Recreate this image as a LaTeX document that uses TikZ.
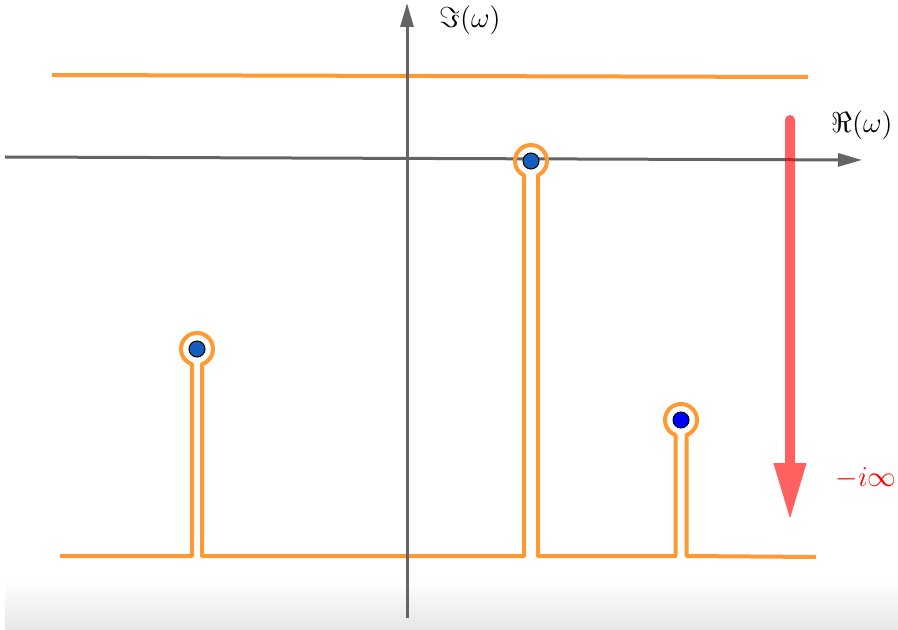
\documentclass[tikz,border=0pt]{standalone}
\usepackage{xcolor}
\usepackage{tikz}
\usetikzlibrary{arrows.meta}
\definecolor{contourorange}{RGB}{255,153,51}
\definecolor{poleblue}{RGB}{22,94,190}
\definecolor{axisgray}{RGB}{100,100,100}
% one keyhole round a pole: centre x, centre y, half gap
\newcommand{\keyhole}[3]{-- (#1-#3,556) -- (#1-#3,{#2+sqrt(256-#3*#3)}) arc[start angle={90+asin(#3/16)}, end angle={450-asin(#3/16)}, radius=16] -- (#1+#3,556)}

\begin{document}
\begin{tikzpicture}[x=0.5pt, y=-0.5pt,
    axis/.style={draw=axisgray, line width=1.5pt, -{Triangle[length=12pt, width=6.5pt]}},
    contour/.style={draw=contourorange, line width=2pt, line join=round},
    pole/.style={circle, draw=black, line width=0.5pt, fill=poleblue, minimum size=8pt, inner sep=0pt},
    lbl/.style={font=\Large, inner sep=0pt}]
  \useasboundingbox (0,0) rectangle (898,630);
  \shade[top color=white, bottom color=black!10] (5,580) rectangle (898,630);
  % real axis
  \coordinate (xl) at (5,157);
  \coordinate (xr) at (862,160);
  \path[axis] (xl) -- (xr);
  % contours
  \coordinate (tl) at (52,75);
  \coordinate (tr) at (808,77);
  \draw[contour] (tl) -- (tr);
  \draw[contour] (60,556) \keyhole{197}{349}{5} \keyhole{531}{161}{7} \keyhole{681}{420}{5.5} -- (816,557);
  % imaginary axis
  \coordinate (yb) at (407,618);
  \coordinate (yt) at (407,3);
  \path[axis] (yb) -- (yt);
  % push to -i infinity
  \coordinate (rs) at (790,120);
  \coordinate (re) at (790,521);
  \begin{scope}[transparency group, opacity=0.62]
    \draw[red, line width=5pt, line cap=round, -{Triangle[length=29pt, width=15pt]}] (rs) -- (re);
  \end{scope}
  \node[lbl] (imlabel) at (470,20) {$\Im(\omega)$};
  \node[lbl] (relabel) at (862,125) {$\Re(\omega)$};
  \node[lbl, text=red] (inflabel) at (866,478) {$-i\infty$};
  % poles
  \node[pole] (p1) at (197,349) {};
  \node[pole] (p2) at (531,161) {};
  \node[pole, fill=blue] (p3) at (681,420) {};
\end{tikzpicture}
\end{document}
